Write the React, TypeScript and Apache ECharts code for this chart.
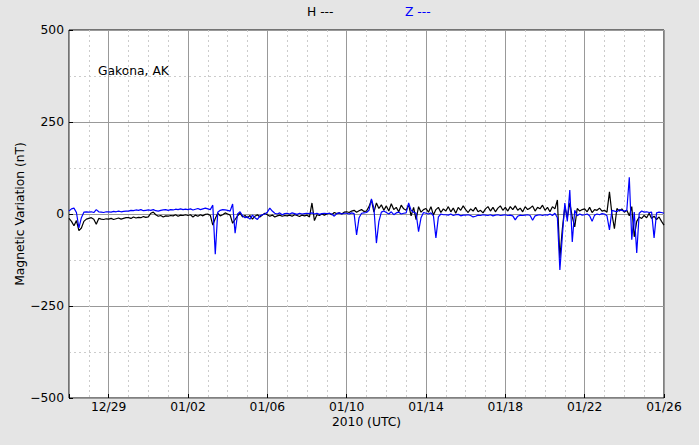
import React, { useEffect, useRef } from "react";
import * as echarts from "echarts";

// 3-hourly samples, 8 per day, starting 2009-12-27 00:00 UTC (day offset 0) to 2010-01-26 00:00 UTC
const stepsPerDay = 8;
const totalDays = 30;

const hValues: number[] = [
  // 12/27
  -12, -20, -32, -18, -45, -38, -20, -14,
  // 12/28
  -12, -10, -14, -28, -12, -14, -15, -13,
  // 12/29
  -14, -12, -15, -13, -11, -14, -12, -10,
  // 12/30
  -10, -12, -8, -11, -9, -10, -7, -9,
  // 12/31
  -8, 2, 5, -2, -6, -4, -8, -5,
  // 01/01
  -6, -4, -5, -2, -6, -3, -4, -2,
  // 01/02
  -4, -2, -8, -3, -6, -2, -5, -1,
  // 01/03
  0, -4, -30, -12, 2, -5, -2, 3,
  // 01/04
  0, -3, -25, -15, -5, 2, -8, -4,
  // 01/05
  -10, -4, -14, -6, -2, -8, -3, 2,
  // 01/06
  -2, -6, -3, -8, -5, -3, -6, -4,
  // 01/07
  -5, -3, -6, -2, -4, -7, -3, -5,
  // 01/08
  -3, -8, 30, -18, -2, -4, 0, -3,
  // 01/09
  0, 2, -2, 4, 1, 3, 0, 5,
  // 01/10
  6, 4, 8, 10, 5, 9, 12, 7,
  // 01/11
  8, 20, 38, 5, 30, 15, 25, 10,
  // 01/12
  22, 8, 28, 12, 18, 6, 24, 14,
  // 01/13
  10, 25, -5, 18, -15, 20, 5, 12,
  // 01/14
  15, 5, 20, -3, 12, 18, 4, 14,
  // 01/15
  8, 20, 6, 16, 2, 18, 10, 22,
  // 01/16
  12, 4, 14, 8, 18, 6, 10, 3,
  // 01/17
  14, 20, 8, 18, 6, 16, 22, 10,
  // 01/18
  18, 8, 20, 12, 22, 10, 16, 6,
  // 01/19
  20, 12, 16, 22, 8, 18, 14, 24,
  // 01/20
  10, 18, 6, 20, 14, 38, -120, -40,
  // 01/21
  20, -10, 30, -8, -35, 15, 8, 12,
  // 01/22
  14, 6, 18, 4, 12, 10, 16, 8,
  // 01/23
  10, 5, 60, 0, -40, 15, 8, 14,
  // 01/24
  5, 10, -5, 20, -62, -20, -8, -12,
  // 01/25
  -4, -10, 2, -12, -6, -15, -8, -20,
  // 01/26 00:00
  -30,
];

const zValues: number[] = [
  // 12/27
  8, 14, 16, 4, -38, -10, 5, 6,
  // 12/28
  5, 6, 4, 12, 6, 5, 4, 6,
  // 12/29
  6, 5, 7, 6, 8, 6, 7, 8,
  // 12/30
  8, 10, 9, 11, 10, 12, 9, 10,
  // 12/31
  11, 10, 12, 9, 8, 10, 11, 12,
  // 01/01
  10, 12, 11, 13, 12, 14, 12, 13,
  // 01/02
  12, 14, 11, 13, 15, 12, 14, 16,
  // 01/03
  14, 12, 24, -109, 5, 10, 12, 11,
  // 01/04
  10, 8, 27, -52, 0, 6, -5, -10,
  // 01/05
  -8, -14, -3, -10, -15, -5, -2, 0,
  // 01/06
  5, 16, 8, 2, 0, 3, -2, 1,
  // 01/07
  2, 0, 3, 1, -1, 2, 0, 1,
  // 01/08
  2, 1, 3, 0, 2, -1, 1, 2,
  // 01/09
  1, 2, 0, -6, 1, 3, 0, 2,
  // 01/10
  2, 0, 3, 1, -57, -10, 2, 3,
  // 01/11
  4, 10, 41, 15, -79, -20, 5, 8,
  // 01/12
  4, 0, 6, -2, 3, 5, 0, 2,
  // 01/13
  3, 30, 10, 5, 2, -48, -10, 4,
  // 01/14
  2, 0, 3, -5, -65, -8, 0, -2,
  // 01/15
  -2, -3, 0, -4, -2, -1, -5, -3,
  // 01/16
  -3, -2, -4, -8, -6, -3, -4, -2,
  // 01/17
  -3, -4, -2, -5, -3, -2, -4, -3,
  // 01/18
  -2, -4, -3, -5, -16, -6, -3, -4,
  // 01/19
  -3, -2, -4, -17, -5, -3, -2, -4,
  // 01/20
  -2, -3, 0, -4, 2, -10, -152, -60,
  // 01/21
  30, -20, 65, -76, 10, -5, 0, -3,
  // 01/22
  -2, 0, -5, -20, -3, 0, -2, 1,
  // 01/23
  0, -5, -43, 10, 8, 6, 12, 10,
  // 01/24
  8, 10, 100, -70, 5, -106, 2, 8,
  // 01/25
  5, 6, 4, 5, -65, 3, 5, 4,
  // 01/26 00:00
  2,
];

// labelled ticks, every 4 days starting 12/29 (day offset 2)
const xTickLabels = ["12/29", "01/02", "01/06", "01/10", "01/14", "01/18", "01/22", "01/26"];
const yTicks = [-500, -250, 0, 250, 500];

const FONT = "DejaVu Sans";
const FS = 12.3;

export default function App() {
  const ref = useRef<HTMLDivElement>(null);

  useEffect(() => {
    if (!ref.current) return;
    const chart = echarts.init(ref.current, undefined, { renderer: "svg" });

    const hData = hValues.map((v, i) => [i / stepsPerDay, v]);
    const zData = zValues.map((v, i) => [i / stepsPerDay, v]);

    const yFmt = (v: number) => (v < 0 ? "\u2212" + Math.abs(v) : String(v));

    chart.setOption({
      animation: false,
      backgroundColor: "#e5e5e5",
      textStyle: { fontFamily: FONT },
      grid: {
        left: 69,
        top: 30,
        width: 595,
        height: 368,
        show: true,
        backgroundColor: "#ffffff",
        borderColor: "#000000",
        borderWidth: 1,
      },
      graphic: [
        {
          type: "text",
          left: 307,
          top: 6,
          style: { text: "H ---", fill: "#000000", font: `${FS}px "${FONT}"` },
        },
        {
          type: "text",
          left: 405,
          top: 6,
          style: { text: "Z ---", fill: "#0000ff", font: `${FS}px "${FONT}"` },
        },
        {
          type: "text",
          left: 98,
          top: 65,
          style: { text: "Gakona, AK", fill: "#000000", font: `${FS}px "${FONT}"` },
        },
      ],
      xAxis: [
        {
          type: "value",
          min: 0,
          max: totalDays,
          interval: 1,
          axisLine: { show: false },
          axisTick: { show: false },
          axisLabel: { show: false },
          splitLine: {
            show: true,
            lineStyle: { color: "#cccccc", type: [2, 3], width: 1 },
          },
        },
        {
          type: "value",
          inverse: true,
          min: 0,
          max: totalDays,
          interval: 4,
          position: "bottom",
          name: "2010 (UTC)",
          nameLocation: "middle",
          nameGap: 18,
          nameMoveOverlap: false,
          nameTextStyle: { fontFamily: FONT, fontSize: FS, color: "#000" },
          axisLine: { show: false },
          axisTick: { show: true, inside: true, length: 4, lineStyle: { color: "#000" } },
          axisLabel: {
            fontFamily: FONT,
            fontSize: FS,
            color: "#000",
            margin: 3,
            formatter: (v: number) => {
              const d = totalDays - v;
              const idx = (d - 2) / 4;
              if (Number.isInteger(idx) && idx >= 0 && idx < xTickLabels.length) return xTickLabels[idx];
              return "";
            },
          },
          splitLine: { show: true, lineStyle: { color: "#999999", width: 1, type: "solid" } },
        },
      ],
      yAxis: {
        type: "value",
        min: yTicks[0],
        max: yTicks[yTicks.length - 1],
        interval: 250,
        name: "Magnetic Variation (nT)",
        nameLocation: "middle",
        nameGap: 43,
        nameMoveOverlap: false,
        nameTextStyle: { fontFamily: FONT, fontSize: FS, color: "#000" },
        axisLine: { show: false },
        axisTick: { show: true, inside: true, length: 4, lineStyle: { color: "#000" } },
        axisLabel: { fontFamily: FONT, fontSize: FS, color: "#000", margin: 5, formatter: yFmt },
        splitLine: { show: true, lineStyle: { color: "#999999", width: 1 } },
        minorTick: { show: false, splitNumber: 2 },
        minorSplitLine: { show: true, lineStyle: { color: "#cccccc", type: [2, 3], width: 1 } },
      },
      series: [
        {
          name: "H",
          type: "line",
          xAxisIndex: 0,
          data: hData,
          showSymbol: false,
          symbol: "none",
          lineStyle: { color: "#000000", width: 1.2 },
          itemStyle: { color: "#000000" },
          z: 3,
        },
        {
          name: "Z",
          type: "line",
          xAxisIndex: 0,
          data: zData,
          showSymbol: false,
          symbol: "none",
          lineStyle: { color: "#0000ff", width: 1.2 },
          itemStyle: { color: "#0000ff" },
          z: 4,
        },
      ],
    });

    return () => chart.dispose();
  }, []);

  return (
    <div
      ref={ref}
      style={{ position: "fixed", left: 0, top: 0, width: 699, height: 445 }}
    />
  );
}
